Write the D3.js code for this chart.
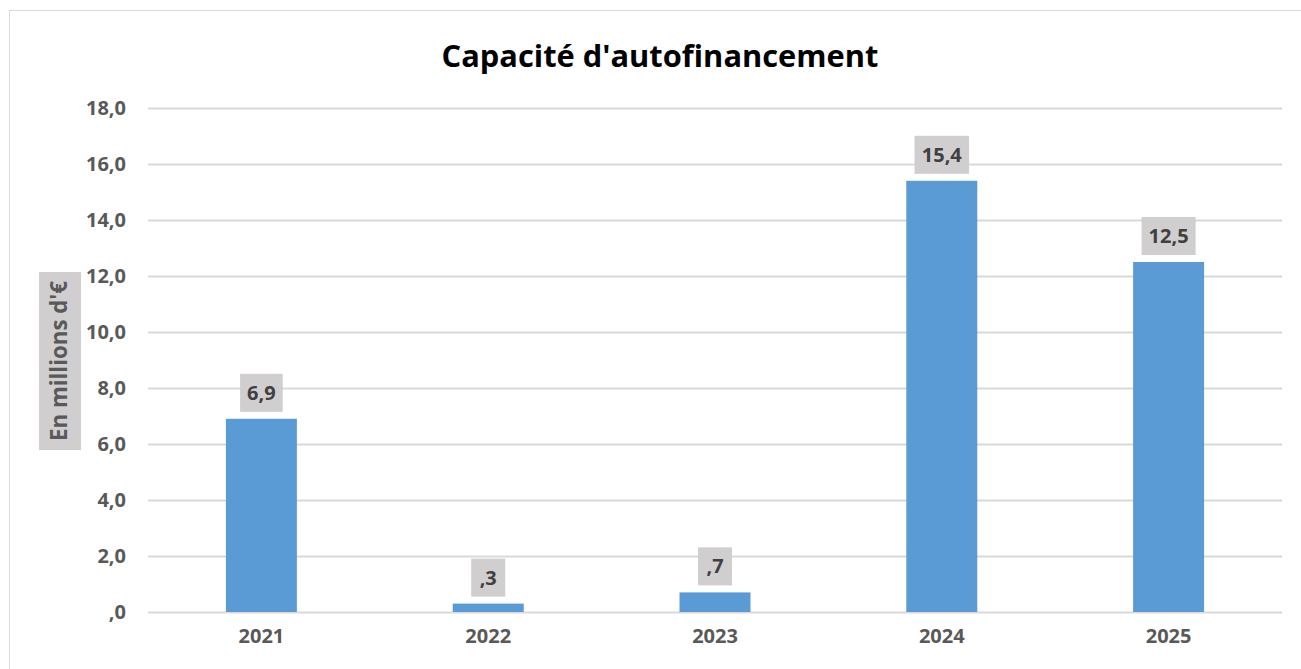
<!DOCTYPE html>
<html>
<head>
<meta charset="utf-8">
<script src="https://cdn.jsdelivr.net/npm/d3@7"></script>
<style>
  body { margin: 0; background: #fff; }
  text { font-family: "Open Sans", "Liberation Sans", sans-serif; font-weight: bold; }
</style>
</head>
<body>
<div id="chart"></div>
<script>
// data
var years = ["2021", "2022", "2023", "2024", "2025"];
var values = [6.9, 0.3, 0.7, 15.4, 12.5];
var yTicks = [0, 2, 4, 6, 8, 10, 12, 14, 16, 18];
var title = "Capacité d'autofinancement";
var yTitle = "En millions d'€";

var width = 1301, height = 669;
var margin = {top: 108, right: 19, bottom: 57, left: 148};

var svg = d3.select("#chart")
    .append("svg")
    .attr("width", width)
    .attr("height", height);

// outer frame
svg.append("rect")
    .attr("x", 9.5).attr("y", 10.5)
    .attr("width", 1300).attr("height", 680)
    .attr("fill", "none")
    .attr("stroke", "#d9d9d9");

var x_scale = d3.scaleBand()
    .domain(years)
    .range([margin.left, width - margin.right])
    .paddingInner(0.687)
    .paddingOuter(0.3435);

var y_scale = d3.scaleLinear()
    .domain([0, 18])
    .range([height - margin.bottom, margin.top]);

// gridlines
svg.append("g")
  .selectAll("line")
  .data(yTicks)
  .enter().append("line")
    .attr("x1", margin.left)
    .attr("x2", width - margin.right)
    .attr("y1", function(d) { return Math.round(y_scale(d)) + 0.5; })
    .attr("y2", function(d) { return Math.round(y_scale(d)) + 0.5; })
    .attr("stroke", "#d9d9d9")
    .attr("stroke-width", 2);

var fmt = function(d) {
  var s = d3.format(".1f")(d).replace(".", ",");
  return s.replace(/^0,/, ",");
};

// y axis labels
var yAxis = d3.axisLeft(y_scale)
    .tickValues(yTicks)
    .tickFormat(fmt)
    .tickSize(0)
    .tickPadding(22);
var gy = svg.append("g")
    .attr("transform", "translate(" + margin.left + ",0)")
    .call(yAxis);
gy.select(".domain").remove();
gy.selectAll("text")
    .attr("fill", "#595959")
    .style("font-size", "20px");

// x axis labels
var xAxis = d3.axisBottom(x_scale).tickSize(0).tickPadding(17);
var gx = svg.append("g")
    .attr("transform", "translate(0," + (height - margin.bottom) + ")")
    .call(xAxis);
gx.select(".domain").remove();
gx.selectAll("text")
    .attr("fill", "#595959")
    .style("font-size", "20px");

// bars
svg.append("g")
  .selectAll("rect")
  .data(values)
  .enter().append("rect")
    .attr("x", function(d, i) { return x_scale(years[i]); })
    .attr("y", function(d) { return y_scale(d); })
    .attr("width", x_scale.bandwidth())
    .attr("height", function(d) { return y_scale(0) - y_scale(d); })
    .attr("fill", "#5b9bd5");

// data labels with grey boxes
var lab = svg.append("g")
  .selectAll("g")
  .data(values)
  .enter().append("g")
    .attr("transform", function(d, i) {
      return "translate(" + (x_scale(years[i]) + x_scale.bandwidth() / 2) + "," + (y_scale(d) - 7) + ")";
    });
lab.append("text")
    .attr("text-anchor", "middle")
    .attr("y", -12)
    .attr("fill", "#404040")
    .style("font-size", "20px")
    .text(fmt);
lab.each(function() {
  var g = d3.select(this);
  var bb = g.select("text").node().getBBox();
  var w = Math.max(bb.width + 14, 34);
  g.insert("rect", "text")
    .attr("x", -w / 2)
    .attr("y", -38)
    .attr("width", w)
    .attr("height", 38)
    .attr("fill", "#d0cecf");
});

// title
var t = svg.append("text")
    .attr("x", 660)
    .attr("y", 67)
    .attr("text-anchor", "middle")
    .attr("fill", "#000")
    .style("font-size", "30px")
    .text(title);
var tw = t.node().getComputedTextLength();
t.style("font-size", (30 * 437 / tw) + "px");

// y axis title
var yt = svg.append("g").attr("transform", "translate(60,361) rotate(-90)");
var ytText = yt.append("text")
    .attr("text-anchor", "middle")
    .attr("y", 7)
    .attr("fill", "#595959")
    .style("font-size", "19px")
    .text(yTitle);
var yw = ytText.node().getComputedTextLength();
ytText.style("font-size", (19 * 160 / yw) + "px");
yt.insert("rect", "text")
    .attr("x", -89).attr("y", -21)
    .attr("width", 178).attr("height", 42)
    .attr("fill", "#d0cecf");
</script>
</body>
</html>
